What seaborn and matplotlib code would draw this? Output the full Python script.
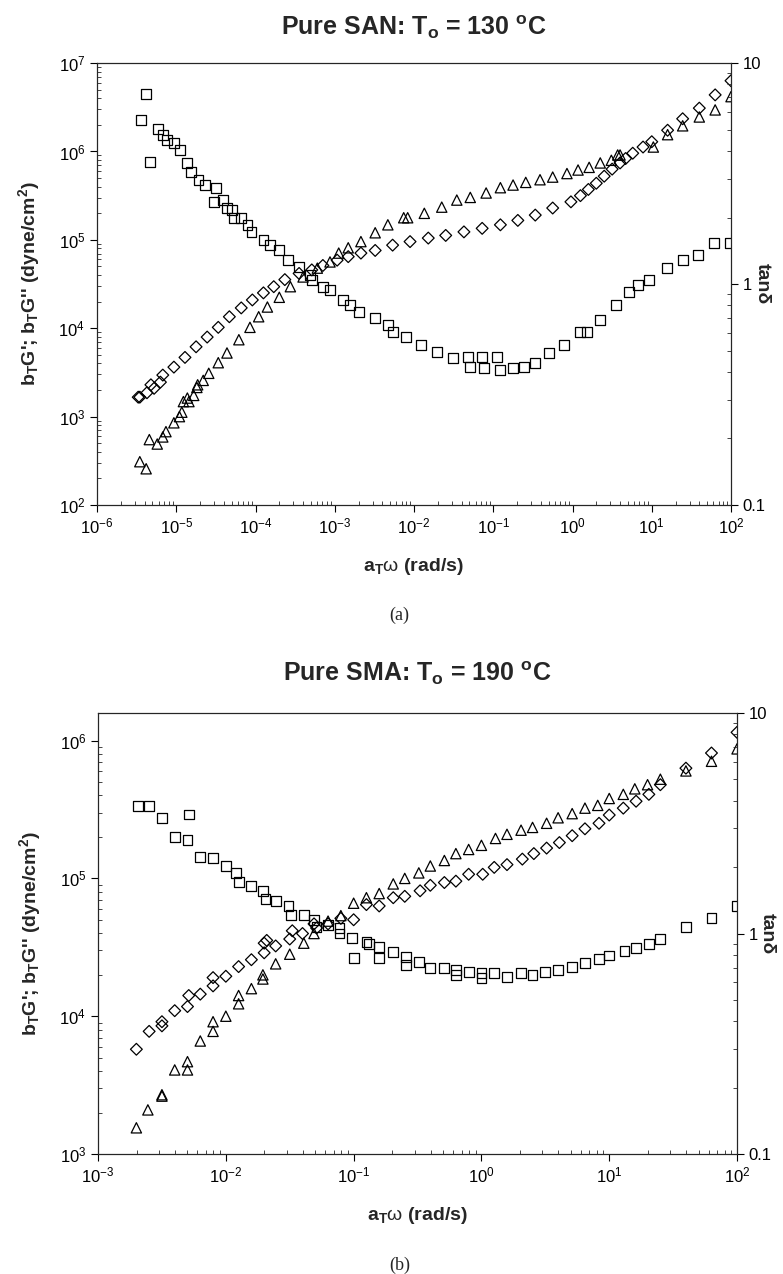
import numpy as np
import matplotlib
matplotlib.use('Agg')
import matplotlib.pyplot as plt
import seaborn as sns
from matplotlib.ticker import LogLocator, FixedLocator, FixedFormatter, NullFormatter

# values, kept as log10 exponents (x = a_T*w, y = modulus or tan d)

# (a) pure SAN, To = 130 C
san_tan_logw = [-5.44, -5.38, -5.33, -5.23, -5.17, -5.12, -5.03, -4.95, -4.86, -4.81,
                -4.72, -4.64, -4.52, -4.50, -4.41, -4.36, -4.30, -4.27, -4.18, -4.10,
                -4.05, -3.90, -3.82, -3.70, -3.59, -3.45, -3.31, -3.29, -3.15, -3.06,
                -2.90, -2.81, -2.69, -2.49, -2.33, -2.27, -2.10, -1.91, -1.71, -1.51,
                -1.32, -1.29, -1.14, -1.12, -0.95, -0.91, -0.75, -0.61, -0.47, -0.30,
                -0.11, 0.09, 0.18, 0.35, 0.55, 0.71, 0.83, 0.97, 1.19, 1.39,
                1.58, 1.79, 1.99]
san_tan_log = [0.742, 0.86, 0.552, 0.70, 0.674, 0.65, 0.638, 0.606, 0.547, 0.507,
               0.47, 0.45, 0.371, 0.434, 0.38, 0.344, 0.335, 0.30, 0.30, 0.267,
               0.235, 0.20, 0.176, 0.154, 0.109, 0.077, 0.04, 0.018, -0.014, -0.027,
               -0.072, -0.095, -0.127, -0.154, -0.186, -0.217, -0.24, -0.276, -0.308, -0.335,
               -0.33, -0.376, -0.33, -0.38, -0.33, -0.389, -0.38, -0.376, -0.357, -0.312,
               -0.276, -0.217, -0.217, -0.163, -0.095, -0.036, -0.005, 0.018, 0.072, 0.109,
               0.131, 0.185, 0.185]

san_g2_logw = [-5.48, -5.46, -5.37, -5.32, -5.28, -5.20, -5.17, -5.03, -4.89, -4.75,
               -4.61, -4.47, -4.33, -4.18, -4.04, -3.90, -3.77, -3.63, -3.45, -3.29,
               -3.15, -2.97, -2.83, -2.67, -2.49, -2.27, -2.05, -1.82, -1.60, -1.37,
               -1.14, -0.91, -0.69, -0.47, -0.25, -0.02, 0.10, 0.20, 0.30, 0.40,
               0.50, 0.60, 0.67, 0.76, 0.89, 1.00, 1.20, 1.39, 1.60, 1.80, 2.00]
san_g2_log = [3.22, 3.22, 3.27, 3.36, 3.32, 3.39, 3.47, 3.56, 3.67, 3.79,
              3.90, 4.01, 4.13, 4.23, 4.32, 4.40, 4.47, 4.55, 4.62, 4.66,
              4.71, 4.77, 4.81, 4.85, 4.88, 4.94, 4.98, 5.02, 5.05, 5.09,
              5.13, 5.17, 5.22, 5.28, 5.36, 5.43, 5.50, 5.57, 5.64, 5.72,
              5.80, 5.87, 5.92, 5.98, 6.05, 6.11, 6.24, 6.37, 6.49, 6.64, 6.80]

san_g1_logw = [-5.46, -5.38, -5.34, -5.24, -5.17, -5.13, -5.03, -4.96, -4.93, -4.91,
               -4.86, -4.84, -4.78, -4.74, -4.73, -4.66, -4.59, -4.47, -4.36, -4.21,
               -4.07, -3.96, -3.85, -3.70, -3.56, -3.40, -3.22, -3.06, -2.95, -2.83,
               -2.67, -2.49, -2.33, -2.13, -2.08, -1.87, -1.65, -1.46, -1.29, -1.09,
               -0.91, -0.75, -0.59, -0.41, -0.25, -0.07, 0.07, 0.21, 0.35, 0.49,
               0.57, 0.60, 1.02, 1.20, 1.39, 1.60, 1.80, 2.00]
san_g1_log = [2.49, 2.41, 2.74, 2.69, 2.77, 2.83, 2.93, 3.00, 3.05, 3.17,
              3.21, 3.17, 3.24, 3.33, 3.36, 3.41, 3.49, 3.61, 3.72, 3.87,
              4.01, 4.13, 4.24, 4.35, 4.47, 4.58, 4.68, 4.75, 4.85, 4.91,
              4.98, 5.08, 5.17, 5.25, 5.25, 5.30, 5.37, 5.45, 5.48, 5.53,
              5.59, 5.62, 5.65, 5.68, 5.71, 5.75, 5.79, 5.82, 5.87, 5.90,
              5.96, 5.96, 6.05, 6.19, 6.29, 6.39, 6.47, 6.62]

# (b) pure SMA, To = 190 C
sma_tan_logw = [-2.69, -2.60, -2.50, -2.40, -2.30, -2.29, -2.20, -2.10, -2.00, -1.92,
                -1.90, -1.80, -1.71, -1.69, -1.61, -1.51, -1.49, -1.39, -1.31, -1.29,
                -1.20, -1.11, -1.11, -1.01, -1.00, -0.90, -0.88, -0.80, -0.80, -0.69,
                -0.59, -0.59, -0.49, -0.40, -0.29, -0.20, -0.20, -0.10, 0.00, 0.00,
                0.10, 0.20, 0.31, 0.40, 0.50, 0.60, 0.71, 0.81, 0.92, 1.00,
                1.12, 1.21, 1.31, 1.40, 1.60, 1.80, 2.00]
sma_tan_log = [0.578, 0.578, 0.524, 0.438, 0.424, 0.54, 0.347, 0.342, 0.306, 0.274,
               0.234, 0.215, 0.193, 0.156, 0.147, 0.125, 0.084, 0.084, 0.06, 0.03,
               0.039, 0.025, 0.0, -0.02, -0.11, -0.04, -0.048, -0.06, -0.11, -0.084,
               -0.106, -0.143, -0.13, -0.157, -0.157, -0.166, -0.188, -0.175, -0.18, -0.20,
               -0.18, -0.197, -0.18, -0.187, -0.175, -0.166, -0.15, -0.134, -0.115, -0.10,
               -0.08, -0.066, -0.048, -0.025, 0.03, 0.07, 0.125]

sma_g2_logw = [-2.70, -2.60, -2.50, -2.50, -2.40, -2.30, -2.29, -2.20, -2.10, -2.10,
               -2.00, -1.90, -1.80, -1.70, -1.70, -1.68, -1.61, -1.50, -1.48, -1.40,
               -1.31, -1.29, -1.20, -1.10, -1.00, -0.90, -0.80, -0.69, -0.60, -0.48,
               -0.40, -0.29, -0.20, -0.10, 0.01, 0.10, 0.20, 0.32, 0.41, 0.51,
               0.61, 0.71, 0.81, 0.92, 1.00, 1.11, 1.21, 1.31, 1.40, 1.60, 1.80, 2.00]
sma_g2_log = [3.76, 3.89, 3.93, 3.96, 4.04, 4.07, 4.15, 4.16, 4.22, 4.28,
              4.29, 4.36, 4.41, 4.46, 4.53, 4.55, 4.51, 4.56, 4.62, 4.60,
              4.67, 4.64, 4.67, 4.71, 4.70, 4.81, 4.80, 4.86, 4.87, 4.91,
              4.95, 4.97, 4.98, 5.03, 5.03, 5.08, 5.10, 5.14, 5.18, 5.22,
              5.26, 5.31, 5.36, 5.40, 5.46, 5.51, 5.56, 5.61, 5.68, 5.80, 5.91, 6.06]

sma_g1_logw = [-2.70, -2.61, -2.50, -2.50, -2.40, -2.30, -2.30, -2.20, -2.10, -2.10,
               -2.00, -1.90, -1.90, -1.80, -1.71, -1.71, -1.61, -1.50, -1.39, -1.31,
               -1.20, -1.10, -1.00, -0.90, -0.80, -0.69, -0.60, -0.49, -0.40, -0.29,
               -0.20, -0.10, 0.00, 0.11, 0.20, 0.31, 0.40, 0.51, 0.60, 0.71,
               0.81, 0.91, 1.00, 1.11, 1.20, 1.30, 1.40, 1.60, 1.80, 2.00]
sma_g1_log = [3.19, 3.32, 3.43, 3.42, 3.61, 3.67, 3.61, 3.82, 3.89, 3.96,
              4.00, 4.09, 4.15, 4.20, 4.27, 4.30, 4.38, 4.45, 4.53, 4.60,
              4.69, 4.73, 4.82, 4.86, 4.89, 4.96, 5.00, 5.04, 5.09, 5.13,
              5.18, 5.21, 5.24, 5.29, 5.32, 5.35, 5.37, 5.40, 5.44, 5.47,
              5.51, 5.53, 5.58, 5.61, 5.65, 5.68, 5.72, 5.78, 5.85, 5.94]

tan_ticks = [0.1, 1, 10]
tan_labels = ['0.1', '1', '10']

sns.set_style('ticks')
plt.rcParams['font.family'] = ['Liberation Sans', 'DejaVu Sans']
plt.rcParams['mathtext.fontset'] = 'custom'
plt.rcParams['mathtext.rm'] = 'Liberation Sans'
plt.rcParams['mathtext.it'] = 'Liberation Sans:italic'
plt.rcParams['mathtext.bf'] = 'Liberation Sans:bold'
plt.rcParams['axes.linewidth'] = 0.8

MK = dict(facecolor='none', edgecolor='black', color='black', linewidth=0.9, legend=False)


def style_axis(ax, which):
    ax.tick_params(axis=which, which='major', direction='out', length=5, width=0.8,
                   labelsize=12, colors='black')
    ax.tick_params(axis=which, which='minor', direction='in', length=3, width=0.6)


def draw_panel(ax, tan_w, tan_v, g2_w, g2_v, g1_w, g1_v, xlim, ylim, title, title_gap, tan_x):
    ax.set_xscale('log')
    ax.set_yscale('log')
    sns.scatterplot(x=10.0 ** np.array(g2_w), y=10.0 ** np.array(g2_v),
                    marker='D', s=36, ax=ax, **MK)
    sns.scatterplot(x=10.0 ** np.array(g1_w), y=10.0 ** np.array(g1_v),
                    marker='^', s=55, ax=ax, **MK)
    ax.set_xlim(*xlim)
    ax.set_ylim(*ylim)
    ax.xaxis.set_major_locator(LogLocator(base=10, numticks=30))
    ax.xaxis.set_minor_locator(LogLocator(base=10, subs=np.arange(2, 10), numticks=100))
    ax.yaxis.set_major_locator(LogLocator(base=10, numticks=30))
    ax.yaxis.set_minor_locator(LogLocator(base=10, subs=np.arange(2, 10), numticks=100))
    ax.xaxis.set_minor_formatter(NullFormatter())
    ax.yaxis.set_minor_formatter(NullFormatter())
    style_axis(ax, 'x')
    style_axis(ax, 'y')
    ax.tick_params(top=False, right=False, which='both')
    for sp in ax.spines.values():
        sp.set_visible(True)
        sp.set_color('black')

    ax.set_xlabel(r'a$_{\mathbf{T}}$$\mathrm{\omega}$ (rad/s)', fontsize=14, fontweight='bold')
    ax.xaxis.set_label_coords(0.5, -0.115)
    ax.set_ylabel(r"b$_{\mathbf{T}}$G'; b$_{\mathbf{T}}$G'' (dyne/cm$^{\mathbf{2}}$)",
                  fontsize=14, fontweight='bold')
    ax.yaxis.set_label_coords(-0.086, 0.5)

    ax2 = ax.twinx()
    ax2.set_yscale('log')
    sns.scatterplot(x=10.0 ** np.array(tan_w), y=10.0 ** np.array(tan_v),
                    marker='s', s=50, ax=ax2, **MK)
    ax2.set_ylim(0.1, 10)
    ax2.yaxis.set_major_locator(FixedLocator(tan_ticks))
    ax2.yaxis.set_major_formatter(FixedFormatter(tan_labels))
    ax2.yaxis.set_minor_locator(LogLocator(base=10, subs=np.arange(2, 10), numticks=100))
    ax2.yaxis.set_minor_formatter(NullFormatter())
    style_axis(ax2, 'y')
    ax2.set_ylabel('tanδ', fontsize=14, fontweight='bold', rotation=270, va='center')
    ax2.yaxis.set_label_coords(tan_x, 0.5)

    pos = ax.get_position()
    fig.text(pos.x0 + pos.width / 2, pos.y1 + title_gap / 1274, title, ha='center',
             va='center', fontsize=18, fontweight='bold')
    return ax2


fig = plt.figure(figsize=(7.83, 12.74), dpi=100)
ax_a = fig.add_axes([0.1239, 0.6036, 0.8097, 0.3469])
ax_b = fig.add_axes([0.1252, 0.0942, 0.8161, 0.3461])

draw_panel(ax_a, san_tan_logw, san_tan_log, san_g2_logw, san_g2_log, san_g1_logw, san_g1_log,
           (1e-6, 1e2), (1e2, 1e7), r'Pure SAN: T$_{\mathbf{o}}$ = 130 $^{\mathbf{o}}$C', 36, 1.05)
draw_panel(ax_b, sma_tan_logw, sma_tan_log, sma_g2_logw, sma_g2_log, sma_g1_logw, sma_g1_log,
           (1e-3, 1e2), (1e3, 10 ** 6.2), r'Pure SMA: T$_{\mathbf{o}}$ = 190 $^{\mathbf{o}}$C', 40,
           1.048)

fig.text(0.51, 1 - 615 / 1274, '(a)', ha='center', va='center', fontsize=13,
         family='Liberation Serif')
fig.text(0.51, 1 - 1265 / 1274, '(b)', ha='center', va='center', fontsize=13,
         family='Liberation Serif')

fig.savefig('out.png', dpi=100)
plt.close(fig)
